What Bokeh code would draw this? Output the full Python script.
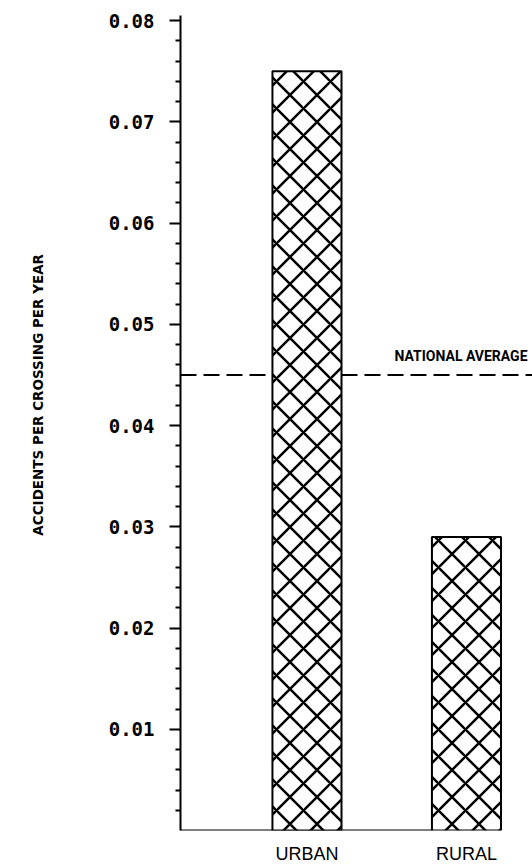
import math
from bokeh.plotting import figure
from bokeh.layouts import row
from bokeh.models import Range1d, LinearAxis, FixedTicker, PrintfTickFormatter, Span, Label
from bokeh.core.properties import value
from bokeh.embed import file_html
from bokeh.resources import INLINE

# ---- data ----
categories = ["URBAN", "RURAL"]
values = [0.075, 0.029]
national_average = 0.045
national_label = "NATIONAL AVERAGE"
y_label = "ACCIDENTS PER CROSSING PER YEAR"
y_ticks = [0.01, 0.02, 0.03, 0.04, 0.05, 0.06, 0.07, 0.08]
y_minor_ticks = [round(i * 0.002, 3) for i in range(1, 41) if i % 5 != 0]

positions = [1, 2]
bar_width = 0.433

TOTAL_H = 868
LEFT_W = 60

# ---- narrow panel holding the vertical y title (pixel coordinates) ----
pl = figure(width=LEFT_W, height=TOTAL_H, output_backend="svg", toolbar_location=None,
            x_range=Range1d(0, LEFT_W), y_range=Range1d(0, TOTAL_H),
            x_axis_type=None, y_axis_type=None,
            min_border_left=0, min_border_right=0, min_border_top=0, min_border_bottom=0)
pl.outline_line_color = None
pl.grid.visible = False
pl.text(x=[37], y=[TOTAL_H - 404], text=[y_label], angle=math.pi / 2,
        text_align="center", text_baseline="middle",
        text_font=value("DejaVu Sans"), text_font_style="bold",
        text_font_size="13.5px", text_color="black")

# ---- main chart ----
x_range = Range1d(0.207, 2.414)
p = figure(width=532 - LEFT_W, height=TOTAL_H, output_backend="svg", toolbar_location=None,
           x_range=x_range, y_range=Range1d(0, 0.0805),
           x_axis_type=None, y_axis_type=None,
           min_border_left=180 - LEFT_W, min_border_right=0, min_border_top=15, min_border_bottom=38)
p.outline_line_color = None
p.background_fill_color = "white"
p.border_fill_color = "white"

yaxis = LinearAxis(
    ticker=FixedTicker(ticks=y_ticks, minor_ticks=y_minor_ticks),
    formatter=PrintfTickFormatter(format="%.2f"),
    axis_line_width=2, axis_line_color="black",
    major_tick_out=11, major_tick_in=0, major_tick_line_width=2,
    minor_tick_out=5, minor_tick_in=0, minor_tick_line_width=2,
    major_label_text_font="DejaVu Sans Mono", major_label_text_font_style="bold",
    major_label_text_font_size="19px", major_label_text_color="black",
    major_label_standoff=15,
)
p.add_layout(yaxis, "left")

xaxis = LinearAxis(
    ticker=FixedTicker(ticks=positions),
    major_label_overrides={pos: cat for pos, cat in zip(positions, categories)},
    axis_line_color=None, major_tick_line_color=None, minor_tick_line_color=None,
    major_label_text_font="Liberation Sans", major_label_text_font_size="18px",
    major_label_text_color="black", major_label_standoff=7,
)
p.add_layout(xaxis, "below")

# baseline from axis to the rural bar
p.segment(x0=[x_range.start], y0=[0], x1=[positions[1] - bar_width / 2], y1=[0],
          line_color="black", line_width=2)

span = Span(location=national_average, dimension="width", line_color="black",
            line_width=2, line_dash="16 7", level="underlay")
p.add_layout(span)

p.vbar(x=positions, top=values, width=bar_width, bottom=0,
       fill_color="white", line_color="black", line_width=2,
       hatch_pattern="diagonal_cross", hatch_scale=27, hatch_weight=2.5, hatch_color="black")

p.add_layout(Label(x=x_range.end, y=national_average, text=national_label,
                   text_align="right", text_baseline="alphabetic", x_offset=-5, y_offset=19,
                   text_font="Roboto", text_font_style="bold",
                   text_font_size="14px", text_color="black"))

layout = row(pl, p, spacing=0)
open("out.html", "w").write(file_html(layout, INLINE))
